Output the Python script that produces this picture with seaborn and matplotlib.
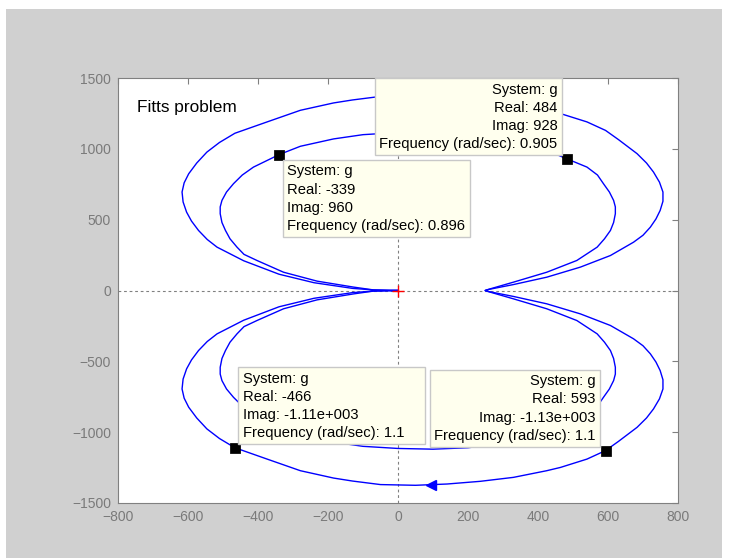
import numpy as np
import pandas as pd
import matplotlib
matplotlib.use("Agg")
import matplotlib.pyplot as plt
import seaborn as sns
from matplotlib.patches import Rectangle

sns.set_style("white")
plt.rcParams["font.family"] = ["Liberation Sans", "DejaVu Sans"]

# rama de frecuencia positiva (w: 0 -> inf), leida del grafico
# primero el lazo interior (semiplano superior), luego el exterior (inferior)
re_pos = [0, -70, -127, -231, -327, -403, -440, -460, -480, -493, -503, -508, -508,
          -503, -490, -470, -445, -413, -339, -279, -184, -100, 0, 100, 200, 300,
          400, 484, 540, 570, 587, 604, 616, 621, 621, 616, 607, 590, 569, 511,
          425, 330, 264, 249,
          254, 330, 425, 521, 607, 673, 700, 721, 737, 749, 757, 757, 747, 730, 710,
          683, 630, 593, 540, 464, 425, 330, 235, 140, 50, -50, -130, -184, -279,
          -374, -466, -510, -546, -575, -598, -611, -617, -614, -604, -590, -570,
          -545, -517, -441, -340, -240, -130, -70, 0]
im_pos = [0, 4, 24, 66, 129, 212, 255, 306, 365, 424, 480, 542, 590,
          636, 695, 754, 815, 871, 960, 1018, 1070, 1100, 1115, 1120, 1110, 1078,
          1015, 928, 871, 815, 754, 695, 636, 590, 542, 480, 424, 365, 306, 212,
          129, 59, 12, 0,
          -5, -42, -94, -165, -247, -341, -390, -447, -505, -565, -630, -695, -765, -836, -900,
          -966, -1065, -1130, -1190, -1249, -1272, -1319, -1347, -1366, -1375, -1370, -1345, -1324, -1272,
          -1190, -1110, -1045, -977, -900, -824, -760, -695, -625, -553, -490, -424,
          -360, -306, -210, -115, -55, -15, -4, 0]

# data tips
tip_re = [484, -339, -466, 593]
tip_im = [928, 960, -1110, -1130]
tip_re_txt = ["484", "-339", "-466", "593"]
tip_im_txt = ["928", "960", "-1.11e+003", "-1.13e+003"]
tip_freq = ["0.905", "0.896", "1.1", "1.1"]

xticks = [-800, -600, -400, -200, 0, 200, 400, 600, 800]
yticks = [-1500, -1000, -500, 0, 500, 1000, 1500]

pos = pd.DataFrame({"re": re_pos, "im": im_pos})
neg = pd.DataFrame({"re": re_pos[::-1], "im": [-v for v in im_pos[::-1]]})

W, H = 734, 558
fig = plt.figure(figsize=(W / 100, H / 100), dpi=100, facecolor="white")
fig.patches.append(Rectangle((6 / W, 0), 716 / W, 1 - 9 / H, transform=fig.transFigure,
                             facecolor="#d0d0d0", edgecolor="none", zorder=-10))
ax = fig.add_axes([118 / W, 1 - 503 / H, 560 / W, 425 / H])
ax.set_facecolor("white")

gray = "#808080"
ax.axhline(0, color=gray, lw=0.8, ls=(0, (2.5, 2.5)), zorder=1)
ax.axvline(0, color=gray, lw=0.8, ls=(0, (2.5, 2.5)), zorder=1)

sns.lineplot(data=pos, x="re", y="im", sort=False, estimator=None, color="#0000ff",
             lw=1.0, ax=ax, zorder=3)
sns.lineplot(data=neg, x="re", y="im", sort=False, estimator=None, color="#0000ff",
             lw=1.0, ax=ax, zorder=3)

# flecha de direccion en la rama positiva (entre dos puntos de la curva)
i = re_pos.index(140)
ax.plot((re_pos[i] + re_pos[i + 1]) / 2, (im_pos[i] + im_pos[i + 1]) / 2, marker="<",
        color="#0000ff", ms=7, zorder=4)
ax.plot((re_pos[i] + re_pos[i + 1]) / 2, -(im_pos[i] + im_pos[i + 1]) / 2, marker=">",
        color="#0000ff", ms=7, zorder=4)

# punto critico -1
ax.plot(-1, 0, marker="+", color="red", ms=9, mew=1, zorder=5)

sns.scatterplot(x=tip_re, y=tip_im, marker="s", color="black", s=45, ax=ax, zorder=6,
                edgecolor="black")

offsets = [(-10, 8), (8, -10), (8, 8), (-10, 8)]
aligns = [("right", "bottom"), ("left", "top"), ("left", "bottom"), ("right", "bottom")]
pads = ["", "", "    ", ""]  # el tip 3 es mas ancho en el original
for k in range(4):
    txt = (f"System: g\nReal: {tip_re_txt[k]}\nImag: {tip_im_txt[k]}\n"
           f"Frequency (rad/sec): {tip_freq[k]}{pads[k]}")
    ax.annotate(txt, xy=(tip_re[k], tip_im[k]), xytext=offsets[k], textcoords="offset pixels",
                ha=aligns[k][0], va=aligns[k][1], multialignment=aligns[k][0],
                fontsize=10.6, linespacing=1.37, color="black", zorder=10,
                bbox=dict(boxstyle="square,pad=0.3", fc="#ffffee", ec="#c8c8c8", lw=1))

ax.text(0.034, 0.931, "Fitts problem", transform=ax.transAxes, fontsize=12.4,
        ha="left", va="center", color="black")

ax.set_xlim(-800, 800)
ax.set_ylim(-1500, 1500)
ax.set_xticks(xticks)
ax.set_yticks(yticks)
ax.set_xlabel("")
ax.set_ylabel("")
ax.tick_params(direction="in", length=4, width=0.8, color=gray, labelcolor="#7a7a7a",
               labelsize=10, top=True, right=True, pad=5)
for s in ax.spines.values():
    s.set_color(gray)
    s.set_linewidth(0.8)
    s.set_visible(True)

fig.savefig("out.png", dpi=100, facecolor=fig.get_facecolor())
